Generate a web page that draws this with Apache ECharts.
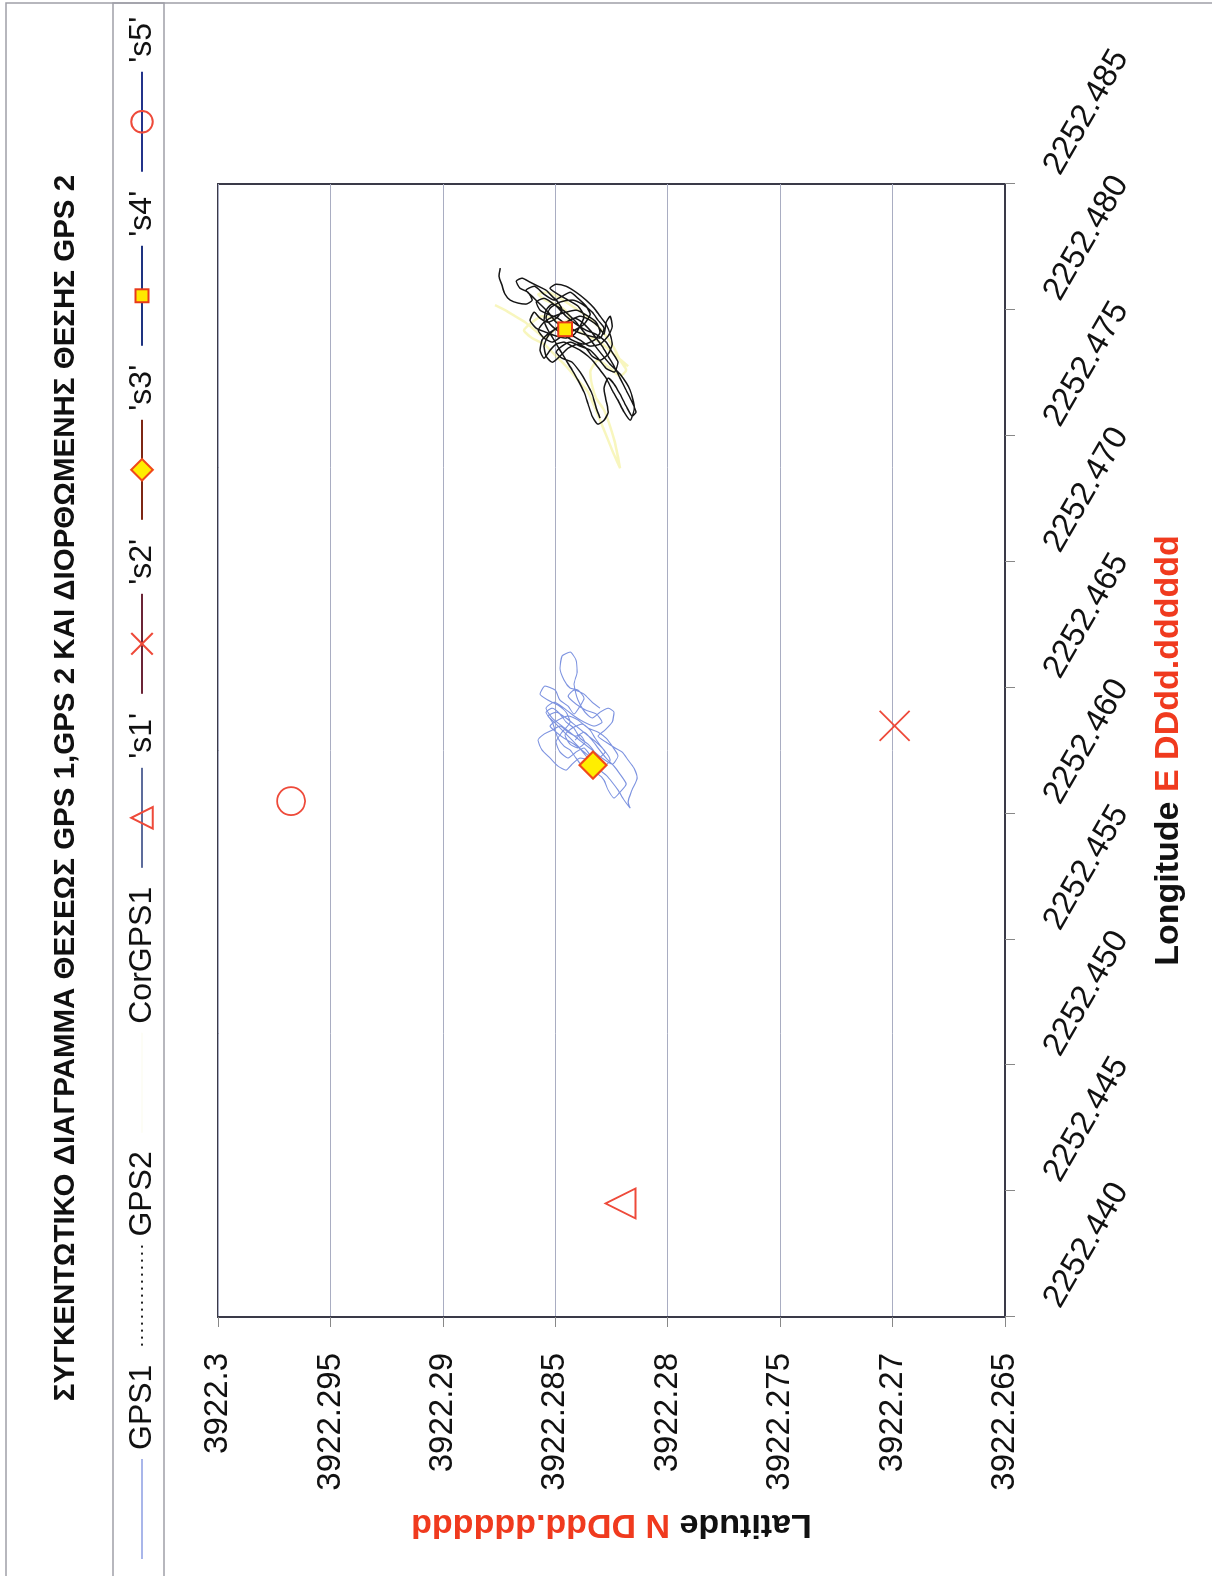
<!DOCTYPE html>
<html><head><meta charset="utf-8">
<script src="https://cdn.jsdelivr.net/npm/echarts@6/dist/echarts.min.js"></script>
<style>
html,body{margin:0;padding:0;width:1212px;height:1576px;overflow:hidden;background:#fff;}
#wrap{position:absolute;left:0;top:0;width:1576px;height:1212px;transform-origin:0 0;transform:translate(0,1576px) rotate(-90deg);}
#chart{width:1576px;height:1212px;}
</style></head><body>
<div id="wrap"><div id="chart"></div></div>
<script>
const titleText = 'ΣΥΓΚΕΝΤΩΤΙΚΟ ΔΙΑΓΡΑΜΜΑ ΘΕΣΕΩΣ GPS 1,GPS 2 ΚΑΙ ΔΙΟΡΘΩΜΕΝΗΣ ΘΕΣΗΣ GPS 2';
const seriesNames = ['GPS1', 'GPS2', 'CorGPS1', "'s1'", "'s2'", "'s3'", "'s4'", "'s5'"];
const lonMin = 2252.440, lonMax = 2252.485, lonStep = 0.005;
const latMin = 3922.265, latMax = 3922.300, latStep = 0.005;

const gps1Lon = [2252.46291,2252.46311,2252.46283,2252.46260,2252.46275,2252.46311,2252.46339,2252.46355,2252.46331,2252.46299,2252.46271,2252.46244,2252.46220,2252.46232,2252.46260,2252.46244,2252.46220,2252.46244,2252.46283,2252.46323,2252.46363,2252.46402,2252.46430,2252.46450,2252.46474,2252.46506,2252.46490,2252.46450,2252.46426,2252.46395,2252.46426,2252.46458,2252.46490,2252.46498,2252.46530,2252.46577,2252.46625,2252.46641,2252.46609,2252.46561,2252.46514,2252.46450,2252.46402,2252.46379,2252.46402,2252.46418,2252.46402,2252.46363,2252.46331,2252.46307,2252.46283,2252.46260,2252.46244,2252.46212,2252.46180,2252.46140,2252.46093,2252.46045,2252.46021,2252.46053,2252.46093,2252.46124,2252.46152,2252.46172,2252.46204,2252.46180,2252.46212,2252.46220,2252.46196,2252.46172,2252.46188,2252.46220,2252.46252,2252.46291,2252.46315,2252.46331,2252.46347,2252.46323,2252.46307,2252.46323,2252.46291,2252.46260,2252.46220,2252.46188,2252.46156,2252.46117,2252.46085,2252.46061,2252.46093,2252.46132,2252.46156,2252.46164,2252.46188,2252.46220,2252.46252,2252.46267,2252.46299,2252.46363,2252.46402,2252.46418,2252.46395,2252.46363,2252.46339,2252.46299,2252.46275,2252.46244,2252.46196,2252.46192,
2252.46228,2252.46267,2252.46299,2252.46331,2252.46363,2252.46387,2252.46402,2252.46379,2252.46347,2252.46315,2252.46283,2252.46252,2252.46212,2252.46188,2252.46212,2252.46244,2252.46275,2252.46299,2252.46323,2252.46347,2252.46371,2252.46387,2252.46371,2252.46339,2252.46323,2252.46299,2252.46267,2252.46228,2252.46196,2252.46220,2252.46252,2252.46283,2252.46315,2252.46347,2252.46379,2252.46418,2252.46442,2252.46418,2252.46387,2252.46363,2252.46347,2252.46363,2252.46395,2252.46410,2252.46434,2252.46466,2252.46490,2252.46474,2252.46442,2252.46418];
const gps1Lat = [3922.28412,3922.28390,3922.28368,3922.28399,3922.28434,3922.28457,3922.28425,3922.28381,3922.28345,3922.28323,3922.28301,3922.28279,3922.28310,3922.28345,3922.28372,3922.28408,3922.28443,3922.28479,3922.28497,3922.28470,3922.28434,3922.28452,3922.28488,3922.28532,3922.28568,3922.28546,3922.28501,3922.28479,3922.28443,3922.28417,3922.28390,3922.28372,3922.28399,3922.28434,3922.28461,3922.28479,3922.28470,3922.28434,3922.28408,3922.28403,3922.28417,3922.28399,3922.28368,3922.28336,3922.28301,3922.28265,3922.28239,3922.28247,3922.28279,3922.28310,3922.28274,3922.28234,3922.28203,3922.28176,3922.28150,3922.28136,3922.28159,3922.28176,3922.28167,3922.28194,3922.28221,3922.28247,3922.28274,3922.28301,3922.28319,3922.28336,3922.28354,3922.28390,3922.28425,3922.28452,3922.28488,3922.28523,3922.28559,3922.28577,3922.28550,3922.28514,3922.28479,3922.28443,3922.28408,3922.28372,3922.28336,3922.28310,3922.28274,3922.28239,3922.28212,3922.28185,3922.28212,3922.28239,3922.28265,3922.28283,3922.28310,3922.28345,3922.28381,3922.28408,3922.28434,3922.28461,3922.28488,3922.28514,3922.28541,3922.28514,3922.28479,3922.28452,3922.28417,3922.28390,3922.28354,3922.28328,3922.28354,3922.28332,
3922.28363,3922.28399,3922.28434,3922.28470,3922.28505,3922.28532,3922.28496,3922.28452,3922.28407,3922.28363,3922.28318,3922.28283,3922.28256,3922.28283,3922.28327,3922.28372,3922.28416,3922.28461,3922.28496,3922.28523,3922.28488,3922.28443,3922.28399,3922.28354,3922.28310,3922.28274,3922.28247,3922.28221,3922.28247,3922.28292,3922.28336,3922.28381,3922.28425,3922.28470,3922.28514,3922.28541,3922.28505,3922.28461,3922.28416,3922.28372,3922.28327,3922.28292,3922.28318,3922.28363,3922.28407,3922.28443,3922.28416,3922.28372,3922.28336,3922.28301];

const gps2Lon = [2252.48166,2252.48134,2252.48098,2252.48062,2252.48039,2252.48027,2252.48023,2252.48039,2252.48070,2252.48086,2252.48114,2252.48126,2252.48110,2252.48094,2252.48078,2252.48054,2252.48031,2252.47999,2252.47967,2252.47951,2252.47967,2252.47991,2252.47959,2252.47927,2252.47911,2252.47896,2252.47888,2252.47903,2252.47935,2252.47975,2252.48015,2252.48039,2252.48062,2252.48086,2252.48102,2252.48094,2252.48070,2252.48039,2252.48007,2252.47975,2252.47943,2252.47903,2252.47864,2252.47824,2252.47800,2252.47816,2252.47848,2252.47864,2252.47848,2252.47816,2252.47792,2252.47816,2252.47856,2252.47896,2252.47927,2252.47951,2252.47967,2252.47951,2252.47919,2252.47888,2252.47856,2252.47816,2252.47776,2252.47729,2252.47681,2252.47633,2252.47594,2252.47578,2252.47618,2252.47665,2252.47705,2252.47729,2252.47689,2252.47641,2252.47594,2252.47562,2252.47546,2252.47578,2252.47626,2252.47673,2252.47721,2252.47761,2252.47800,2252.47840,2252.47880,2252.47919,2252.47959,2252.47999,2252.48023,2252.48007,2252.47983,2252.47951,2252.47911,2252.47872,2252.47832,2252.47784,2252.47745,2252.47681,2252.47610,2252.47562,2252.47594,2252.47641,2252.47681,2252.47729,2252.47761,2252.47792,2252.47816,2252.47840,2252.47856,2252.47872,2252.47864,2252.47840,2252.47808,2252.47840,2252.47880,2252.47911,2252.47935,2252.47959,2252.47975,2252.47959,2252.47935,2252.47903,2252.47951,2252.47975,2252.47935,2252.47896,2252.47864,2252.47856,2252.47880,2252.47903,2252.47919,2252.47923,
2252.47951,2252.47991,2252.48023,2252.48054,2252.48078,2252.48094,2252.48062,2252.48039,2252.48054,2252.48070,2252.48046,2252.48015,2252.47983,2252.47943,2252.47919,2252.47896,2252.47872,2252.47888,2252.47919,2252.47951,2252.47975,2252.47991,2252.47999,2252.47975,2252.47951,2252.47911,2252.47880,2252.47864,2252.47880,2252.47911,2252.47935,2252.47967,2252.48007,2252.48031,2252.48039,2252.48023,2252.47991,2252.47959,2252.47927,2252.47888,2252.47896,2252.47911,2252.47935,2252.47967,2252.47983,2252.47999,2252.48031,2252.48046,2252.48015,2252.47975,2252.47943,2252.47919,2252.47903,2252.47872,2252.47832,2252.47792,2252.47753,2252.47768,2252.47808,2252.47840,2252.47856,2252.47872,2252.47856,2252.47832,2252.47808,2252.47792,2252.47753,2252.47713,2252.47665,2252.47610,2252.47570];
const gps2Lat = [3922.28745,3922.28750,3922.28737,3922.28723,3922.28701,3922.28665,3922.28630,3922.28603,3922.28621,3922.28657,3922.28674,3922.28648,3922.28612,3922.28576,3922.28541,3922.28514,3922.28488,3922.28470,3922.28496,3922.28532,3922.28568,3922.28594,3922.28612,3922.28585,3922.28541,3922.28496,3922.28452,3922.28416,3922.28390,3922.28372,3922.28399,3922.28443,3922.28488,3922.28523,3922.28496,3922.28452,3922.28407,3922.28363,3922.28327,3922.28301,3922.28274,3922.28256,3922.28247,3922.28265,3922.28301,3922.28336,3922.28363,3922.28399,3922.28443,3922.28479,3922.28514,3922.28541,3922.28550,3922.28532,3922.28496,3922.28452,3922.28416,3922.28381,3922.28345,3922.28318,3922.28292,3922.28265,3922.28238,3922.28212,3922.28185,3922.28158,3922.28141,3922.28158,3922.28185,3922.28212,3922.28238,3922.28265,3922.28283,3922.28274,3922.28265,3922.28283,3922.28310,3922.28336,3922.28354,3922.28372,3922.28399,3922.28425,3922.28452,3922.28479,3922.28505,3922.28532,3922.28550,3922.28541,3922.28514,3922.28479,3922.28443,3922.28407,3922.28372,3922.28336,3922.28301,3922.28256,3922.28212,3922.28167,3922.28149,3922.28167,3922.28194,3922.28221,3922.28247,3922.28274,3922.28301,3922.28327,3922.28354,3922.28390,3922.28425,3922.28461,3922.28496,3922.28523,3922.28550,3922.28568,3922.28559,3922.28523,3922.28479,3922.28434,3922.28390,3922.28345,3922.28310,3922.28283,3922.28274,3922.28256,3922.28247,3922.28265,3922.28301,3922.28345,3922.28390,3922.28434,3922.28470,3922.28456,
3922.28496,3922.28532,3922.28568,3922.28603,3922.28630,3922.28594,3922.28550,3922.28505,3922.28470,3922.28434,3922.28399,3922.28363,3922.28345,3922.28372,3922.28416,3922.28470,3922.28514,3922.28550,3922.28576,3922.28550,3922.28505,3922.28452,3922.28407,3922.28354,3922.28318,3922.28301,3922.28327,3922.28372,3922.28425,3922.28479,3922.28514,3922.28541,3922.28523,3922.28479,3922.28425,3922.28381,3922.28336,3922.28310,3922.28283,3922.28301,3922.28345,3922.28399,3922.28443,3922.28488,3922.28532,3922.28568,3922.28585,3922.28550,3922.28496,3922.28452,3922.28407,3922.28363,3922.28318,3922.28274,3922.28247,3922.28221,3922.28238,3922.28274,3922.28310,3922.28345,3922.28390,3922.28434,3922.28470,3922.28496,3922.28470,3922.28425,3922.28390,3922.28363,3922.28336,3922.28318,3922.28301];

const corLon = [2252.48019,2252.47999,2252.47975,2252.47951,2252.47919,2252.47888,2252.47911,2252.47943,2252.47967,2252.47999,2252.48023,2252.48039,2252.48062,2252.48070,2252.48046,2252.48015,2252.47983,2252.47943,2252.47896,2252.47848,2252.47800,2252.47761,2252.47737,2252.47768,2252.47800,2252.47753,2252.47697,2252.47649,2252.47602,2252.47483,2252.47371,2252.47443,2252.47562,2252.47673,2252.47721,2252.47776,2252.47824,2252.47864,2252.47888,2252.47919,2252.47951,2252.47975,2252.47967,2252.47935,2252.47919,2252.47896,2252.47872,2252.47820,2252.47776];
const corLat = [3922.28768,3922.28723,3922.28679,3922.28634,3922.28590,3922.28545,3922.28514,3922.28479,3922.28434,3922.28456,3922.28501,3922.28545,3922.28576,3922.28532,3922.28479,3922.28425,3922.28372,3922.28318,3922.28274,3922.28238,3922.28212,3922.28185,3922.28212,3922.28256,3922.28310,3922.28345,3922.28336,3922.28318,3922.28283,3922.28238,3922.28212,3922.28247,3922.28301,3922.28354,3922.28399,3922.28452,3922.28505,3922.28550,3922.28603,3922.28639,3922.28603,3922.28559,3922.28514,3922.28470,3922.28412,3922.28354,3922.28301,3922.28234,3922.28176];

const pointLon = [2252.44451, 2252.46348, 2252.46192, 2252.47923, 2252.46049];
const pointLat = [3922.28210, 3922.26991, 3922.28332, 3922.28456, 3922.29675];

const F = "'Liberation Sans', Arial, sans-serif";
const RED = '#ee4a3a';
const zip = (a, b) => a.map((v, i) => [v, b[i]]);

const pointStyles = [
  {symbol: 'triangle', size: 30, item: {color: 'rgba(255,255,255,0)', borderColor: RED, borderWidth: 1.8}, line: '#5d6c9c'},
  {symbol: 'path://M0,0L20,20M20,0L0,20', size: 30, item: {color: 'rgba(255,255,255,0)', borderColor: RED, borderWidth: 1.8}, line: '#6b2436'},
  {symbol: 'diamond', size: 27, item: {color: '#ffee00', borderColor: '#f04a1a', borderWidth: 2.2}, line: '#7d2614'},
  {symbol: 'path://M0,0M20,20M4,4L16,4L16,16L4,16Z', size: 23, item: {color: '#ffe800', borderColor: '#e83a1a', borderWidth: 2}, line: '#1e3380'},
  {symbol: 'circle', size: 28, item: {color: 'rgba(255,255,255,0)', borderColor: RED, borderWidth: 1.8}, line: '#23338a'}
];

const trackColors = ['#7d93e0', '#161616', 'rgba(240,236,110,0.45)'];
const series = [
  {name: seriesNames[0], type: 'line', data: zip(gps1Lon, gps1Lat), symbol: 'none', smooth: 0.2, z: 3,
   itemStyle: {color: trackColors[0]}, lineStyle: {color: trackColors[0], width: 1.1}},
  {name: seriesNames[1], type: 'line', data: zip(gps2Lon, gps2Lat), symbol: 'none', smooth: 0.2, z: 3,
   itemStyle: {color: trackColors[1]}, lineStyle: {color: trackColors[1], width: 1.5}},
  {name: seriesNames[2], type: 'line', data: zip(corLon, corLat), symbol: 'none', smooth: 0.2, z: 2,
   itemStyle: {color: trackColors[2]}, lineStyle: {color: trackColors[2], width: 2.5}}
];
pointStyles.forEach((p, i) => {
  series.push({
    name: seriesNames[3 + i], type: 'line', data: [[pointLon[i], pointLat[i]]], z: 5,
    symbol: p.symbol, symbolSize: p.size, showSymbol: true, itemStyle: p.item,
    lineStyle: {color: p.line, width: 2}
  });
});

const legendData = seriesNames.map((n, i) => {
  if (i === 0) return {name: n, itemStyle: {opacity: 0}, lineStyle: {color: '#a9b6ea', width: 2}};
  if (i === 1) return {name: n, itemStyle: {opacity: 0}, lineStyle: {type: [2, 5], width: 2, color: '#222'}};
  if (i === 2) return {name: n, itemStyle: {opacity: 0}, lineStyle: {color: 'rgba(250,250,220,0.5)', width: 1}};
  return {name: n};
});

const chart = echarts.init(document.getElementById('chart'), null, {renderer: 'canvas'});
chart.setOption({
  animation: false,
  backgroundColor: '#ffffff',
  textStyle: {fontFamily: F},
  title: {text: titleText, left: 'center', top: 46,
    textStyle: {fontFamily: F, fontSize: 29.5, fontWeight: 'bold', color: '#111'}},
  graphic: [
    {type: 'rect', silent: true, z: -10, shape: {x: -4, y: 6, width: 1577, height: 1210}, style: {fill: 'none', stroke: '#a0a0a8', lineWidth: 1.5}},
    {type: 'rect', silent: true, z: -10, shape: {x: -4, y: 113, width: 1577, height: 51}, style: {fill: 'none', stroke: '#a0a0a8', lineWidth: 1.5}}
  ],
  legend: {
    left: 16, right: 0, top: 126, padding: 0, itemWidth: 100, itemHeight: 27, itemGap: 18,
    textStyle: {fontFamily: F, fontSize: 32, color: '#111', padding: [0, 0, 0, 4]},
    data: legendData
  },
  grid: {left: 259, right: 184, top: 218, bottom: 207, show: true, borderColor: '#3a3a48', borderWidth: 2, backgroundColor: '#fff'},
  xAxis: {
    type: 'value', min: lonMin, max: lonMax, interval: lonStep,
    name: '{a|Longitude} {b|E DDdd.dddddd}', nameLocation: 'middle', nameGap: 147,
    nameTextStyle: {fontFamily: F, fontSize: 34, fontWeight: 'bold', color: '#111',
      rich: {a: {fontFamily: F, fontSize: 34, fontWeight: 'bold', color: '#111'},
             b: {fontFamily: F, fontSize: 34, fontWeight: 'bold', color: '#f03a1e'}}},
    axisLine: {show: true, lineStyle: {color: '#3a3a48', width: 2}},
    axisTick: {show: true, inside: false, length: 10, lineStyle: {color: '#888'}},
    splitLine: {show: false},
    axisLabel: {rotate: -30, margin: 40, padding: [0, 0, 0, 14], fontFamily: F, fontSize: 33, color: '#111',
      showMinLabel: true, showMaxLabel: true, hideOverlap: false,
      formatter: v => v.toFixed(3)}
  },
  yAxis: {
    type: 'value', min: latMin, max: latMax, interval: latStep,
    name: '{a|Latitude} {b|N DDdd.dddddd}', nameLocation: 'middle', nameGap: 190, nameRotate: 90,
    nameTextStyle: {fontFamily: F, fontSize: 34, fontWeight: 'bold', color: '#111',
      rich: {a: {fontFamily: F, fontSize: 34, fontWeight: 'bold', color: '#111'},
             b: {fontFamily: F, fontSize: 34, fontWeight: 'bold', color: '#f03a1e'}}},
    axisLine: {show: true, lineStyle: {color: '#3a3a48', width: 2}},
    axisTick: {show: true, inside: false, length: 10, lineStyle: {color: '#888'}},
    splitLine: {show: true, lineStyle: {color: '#a9adc2', width: 1}},
    axisLabel: {margin: 36, fontFamily: F, fontSize: 33, color: '#111',
      showMinLabel: true, showMaxLabel: true,
      formatter: v => String(parseFloat(v.toFixed(4)))}
  },
  series: series
});
</script></body></html>
